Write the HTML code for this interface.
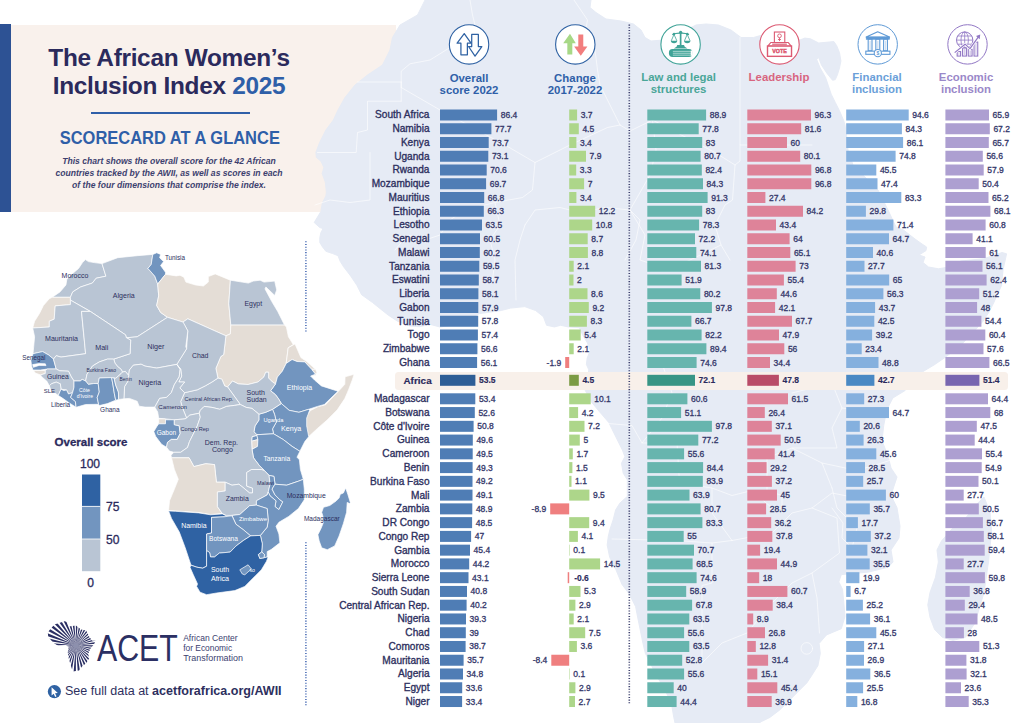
<!DOCTYPE html>
<html lang="en">
<head>
<meta charset="utf-8">
<title>The African Women's Inclusion Index 2025 – Scorecard at a glance</title>
<style>
html,body{margin:0;padding:0;background:#fff;}
body{width:1024px;height:723px;position:relative;overflow:hidden;font-family:"Liberation Sans",Arial,sans-serif;color:#2d2f5e;}
.abs{position:absolute;}
#panel{position:absolute;left:0;top:24.6px;width:396px;height:187px;background:#f9f1ec;}
#stripe{position:absolute;left:0;top:24.3px;width:11.1px;height:187.3px;background:#2d5294;}
#bg{position:absolute;left:0;top:0;width:1024px;height:723px;}
#afband{position:absolute;left:395px;top:372px;width:613px;height:17.5px;border-radius:3.5px;background:#f8f0ea;}
.t1{position:absolute;left:0;width:338px;text-align:center;font-weight:bold;color:#2b2a5c;font-size:24.4px;line-height:30px;white-space:nowrap;letter-spacing:-0.3px;}
.t1 b{color:#2f5fa8;}
#rule{position:absolute;left:90.5px;top:111.8px;width:159.5px;height:2.4px;background:#2f5fa8;}
#sub{position:absolute;left:0;width:339.6px;top:128.8px;text-align:center;font-weight:bold;color:#2f5fa8;font-size:17.6px;line-height:18px;white-space:nowrap;transform:scaleX(0.936);transform-origin:50% 50%;}
.desc{position:absolute;left:0;width:338px;text-align:center;font-style:italic;font-weight:bold;color:#3d416f;font-size:8.6px;line-height:12px;white-space:nowrap;}
.lab{position:absolute;left:230px;width:199.5px;text-align:right;font-size:10.1px;line-height:16px;height:16px;color:#2d2f5e;white-space:nowrap;-webkit-text-stroke:0.33px #2d2f5e;}
.lab.af{font-weight:bold;-webkit-text-stroke:0.2px #2b2a5c;color:#2b2a5c;left:232.2px;font-size:9.9px;letter-spacing:0.05px}
.b{position:absolute;display:block;height:11px;}
.v{position:absolute;font-size:8.5px;line-height:16px;height:16px;color:#34376a;white-space:nowrap;-webkit-text-stroke:0.3px #34376a;}
.v.af{font-weight:bold;-webkit-text-stroke:0.15px #2b2a5c;color:#2b2a5c;}
.hd{position:absolute;width:120px;text-align:center;font-weight:bold;font-size:11.4px;line-height:12.4px;white-space:nowrap;}
.lg{position:absolute;text-align:center;color:#2b2a5c;line-height:14px;white-space:nowrap;-webkit-text-stroke:0.3px #2b2a5c;}
.dots{position:absolute;width:0;border-left:1.7px dotted #4169b0;}
</style>
</head>
<body>
<div id="panel"></div>
<div id="stripe"></div>
<svg id="bg" width="1024" height="723" viewBox="0 0 1024 723">
<path d="M425.0,0.0 L417.5,15.0 L400.0,25.0 L392.5,37.5 L390.0,50.0 L382.5,65.0 L367.5,75.0 L355.0,85.0 L345.0,97.5 L338.0,110.0 L333.4,120.0 L325.9,130.0 L319.7,142.4 L315.9,152.4 L316.4,157.4 L320.9,161.1 L323.9,167.4 L322.2,173.6 L325.4,182.3 L326.4,192.3 L325.9,196.0 L322.5,202.6 L321.2,209.3 L320.9,211.5 L314.2,222.5 L319.8,227.5 L323.1,228.6 L320.9,232.5 L319.8,238.0 L319.8,242.5 L322.5,246.9 L325.9,251.3 L332.5,253.5 L338.0,255.7 L340.2,261.3 L343.6,266.8 L350.6,275.9 L356.9,285.3 L361.6,294.7 L372.5,302.5 L380.3,308.8 L388.1,315.0 L397.5,321.2 L410.0,326.0 L419.4,326.7 L430.3,324.4 L440.0,327.0 L460.0,324.0 L479.4,313.6 L501.2,310.5 L510.6,308.1 L524.7,306.6 L535.6,310.5 L543.4,316.7 L546.6,325.3 L554.4,326.9 L560.6,325.3 L568.4,326.9 L579.4,327.7 L582.5,334.7 L587.2,342.5 L590.3,350.3 L587.2,358.1 L586.4,364.4 L588.8,369.8 L585.3,390.5 L591.6,402.2 L599.4,411.6 L608.8,422.5 L613.4,431.9 L617.4,440.0 L622.4,450.0 L624.9,456.6 L621.5,463.2 L623.2,473.2 L627.3,479.8 L627.3,496.4 L619.9,503.1 L615.7,509.7 L613.2,519.7 L609.9,529.6 L608.3,536.3 L607.2,545.0 L609.7,557.3 L615.9,569.6 L622.0,584.4 L629.4,594.3 L635.6,606.6 L638.0,618.9 L640.5,631.2 L643.0,643.6 L645.4,653.4 L650.4,663.3 L656.5,675.6 L663.9,687.9 L671.3,702.7 L673.8,717.5 L675.0,723.0 L760.0,723.0 L760.0,722.3 L769.9,717.4 L779.7,710.0 L789.6,700.2 L799.4,690.3 L806.8,682.9 L811.7,675.5 L817.9,665.7 L820.3,653.4 L819.1,643.5 L826.5,634.9 L841.3,628.7 L845.0,616.4 L843.7,601.7 L842.5,589.3 L838.8,581.9 L841.3,574.6 L868.4,572.1 L888.1,567.2 L893.0,562.0 L891.0,550.0 L899.0,538.0 L900.0,526.0 L897.0,507.7 L891.0,495.5 L894.0,486.0 L897.0,477.0 L891.0,468.0 L888.0,456.0 L882.0,440.8 L883.7,425.6 L886.7,410.0 L892.8,398.0 L905.0,390.6 L923.0,371.5 L934.0,365.0 L945.0,357.5 L961.0,345.0 L973.0,332.5 L982.8,321.5 L989.0,312.0 L993.7,302.8 L998.0,293.0 L1001.5,285.6 L1003.0,270.0 L1006.6,253.8 L1002.0,252.5 L983.5,258.8 L961.0,261.0 L946.0,267.5 L938.5,268.8 L928.5,267.0 L923.0,262.5 L925.0,257.0 L919.0,255.0 L926.0,250.6 L926.6,247.0 L922.0,244.0 L915.0,239.0 L903.5,230.0 L896.0,227.0 L888.0,210.0 L878.0,190.0 L858.0,170.0 L853.0,165.0 L848.0,150.0 L846.5,135.0 L845.0,125.0 L843.6,120.4 L839.5,110.8 L835.3,102.5 L831.2,94.2 L828.4,85.9 L825.6,77.6 L820.1,67.9 L816.7,59.6 L818.7,57.5 L821.5,65.1 L827.0,73.4 L832.6,80.3 L835.3,79.6 L837.4,74.8 L839.5,67.9 L840.9,61.0 L839.5,52.7 L836.7,45.7 L833.9,41.6 L818.7,43.0 L810.4,38.8 L804.9,38.1 L799.4,40.2 L796.0,36.0 L781.0,34.0 L766.0,34.0 L753.5,37.5 L741.0,37.5 L731.0,30.0 L718.5,25.0 L706.0,24.0 L696.0,25.0 L686.0,30.0 L673.5,35.0 L663.5,40.0 L651.0,41.0 L645.0,37.5 L641.0,30.0 L633.5,24.0 L621.0,21.0 L606.0,19.0 L596.0,12.5 L590.0,7.5 L591.0,0.0Z" fill="#e6ebf5" stroke="#e6ebf5" stroke-width="1" stroke-linejoin="round"/>
<path d="M984.0,497.0 L990.0,512.0 L991.6,531.0 L988.5,561.7 L984.0,592.5 L974.7,623.4 L965.4,637.3 L953.0,640.3 L942.3,637.3 L934.6,629.5 L930.0,617.2 L927.8,604.9 L930.0,592.5 L935.4,577.6 L938.4,562.0 L937.0,550.0 L941.5,541.0 L953.0,527.8 L965.4,518.5 L974.7,506.2Z" fill="#e6ebf5" stroke="#e6ebf5" stroke-width="1" stroke-linejoin="round"/>
<g fill="none" stroke="#fff" stroke-opacity="0.6" stroke-width="1" stroke-linejoin="round" stroke-linecap="round">
<path d="M357.5,82.0 L401.2,82.0"/>
<path d="M401.2,87.5 L401.2,71.2 L410.0,63.8 L430.0,60.0 L440.0,53.8 L450.0,47.5 L460.0,37.5"/>
<path d="M401.2,101.2 L367.5,101.2 L367.5,130.0 L357.5,132.5 L356.2,152.5 L317.5,152.5"/>
<path d="M401.2,82.0 L401.2,87.5 L440.0,110.0"/>
<path d="M401.2,87.5 L401.2,101.2"/>
<path d="M470.0,0.0 L472.5,15.0 L475.0,25.0"/>
<path d="M440.0,110.0 L505.0,145.0 L535.0,162.5 L570.0,145.0 L607.5,127.5 L620.0,125.0"/>
<path d="M620.0,125.0 L607.5,100.0 L600.0,85.0 L597.5,70.0 L595.0,50.0 L585.0,35.0 L587.5,20.0 L574.0,0.0"/>
<path d="M620.0,125.0 L630.0,131.0 L652.5,120.0 L715.0,152.5 L735.0,165.0"/>
<path d="M535.0,162.5 L532.5,190.0 L522.5,197.5 L495.0,202.5 L465.0,210.0 L450.0,220.0"/>
<path d="M370.0,152.5 L370.0,200.0 L350.0,202.5 L330.0,200.0 L315.0,205.0"/>
<path d="M652.5,120.0 L656.0,150.0 L650.0,175.0 L630.0,210.0"/>
<path d="M525.0,225.0 L535.0,210.0 L560.0,207.5 L580.0,212.5 L605.0,207.5 L630.0,210.0 L640.0,220.0 L636.0,240.0 L625.0,260.0"/>
<path d="M740.0,37.5 L740.0,145.0 L812.0,145.0"/>
<path d="M740.0,145.0 L740.0,161.0 L735.0,165.0 L732.5,200.0 L725.0,205.0 L715.0,225.0 L721.0,245.0 L730.0,260.0"/>
<path d="M450.0,220.0 L440.0,235.0 L425.0,240.0 L407.5,235.0 L395.0,250.0"/>
<path d="M495.0,202.5 L500.0,225.0 L490.0,240.0 L495.0,260.0 L492.5,280.0"/>
<path d="M525.0,225.0 L520.0,240.0 L515.0,260.0 L516.0,300.0"/>
<path d="M630.0,210.0 L645.0,235.0 L640.0,260.0 L670.0,270.0 L690.0,260.0 L721.0,245.0"/>
<path d="M612.0,539.0 L677.0,540.5 L712.0,543.0 L732.0,540.5"/>
<path d="M712.0,543.0 L712.0,583.0 L702.0,585.5 L702.0,663.0"/>
<path d="M602.0,423.0 L632.0,425.5 L642.0,443.0 L677.0,443.0 L679.5,483.0 L712.0,488.0 L712.0,513.0 L732.0,540.5"/>
<path d="M732.0,540.5 L772.0,533.0 L792.0,513.0 L812.0,508.0 L832.0,493.0 L857.0,498.0"/>
<path d="M702.0,663.0 L722.0,643.0 L747.0,633.0 L772.0,603.0 L792.0,583.0 L812.0,573.0"/>
<path d="M812.0,508.0 L837.0,518.0 L839.5,553.0 L812.0,573.0 L817.0,598.0 L819.5,633.0"/>
<path d="M712.0,488.0 L732.0,495.5 L752.0,490.5 L772.0,508.0 L782.0,508.0 L782.0,495.5 L767.0,490.5 L767.0,458.0 L792.0,448.0 L822.0,463.0 L832.0,488.0"/>
<path d="M822.0,463.0 L857.0,470.5 L882.0,463.0 L897.0,458.0"/>
<path d="M832.0,488.0 L837.0,508.0 L857.0,528.0 L852.0,548.0 L842.0,538.0 L843.0,523.0 L832.0,508.0"/>
<path d="M792.0,393.0 L812.0,388.0 L832.0,383.0 L842.0,408.0 L832.0,428.0 L837.0,448.0 L792.0,448.0"/>
<path d="M842.0,408.0 L882.0,413.0 L912.0,433.0"/>
<path d="M662.0,363.0 L672.0,393.0 L662.0,418.0 L642.0,443.0"/>
<circle cx="806.8" cy="648.4" r="5.8"/>
</g>
</svg>
<div id="afband"></div>

<div class="t1" style="top:43px">The African Women’s</div>
<div class="t1" style="top:71px">Inclusion Index <b>2025</b></div>
<div id="rule"></div>
<div id="sub">SCORECARD AT A GLANCE</div>
<div class="desc" style="top:154.5px">This chart shows the overall score for the 42 African</div>
<div class="desc" style="top:166.8px">countries tracked by the AWII, as well as scores in each</div>
<div class="desc" style="top:179px">of the four dimensions that comprise the index.</div>

<svg id="map" style="position:absolute;left:0;top:0" width="360" height="620" viewBox="0 0 360 620">
<g stroke="#fff" stroke-width="0.7" stroke-linejoin="round">
<path d="M52.2,297.3 60.0,291.9 65.9,285.0 66.9,279.2 71.8,274.3 78.6,268.4 82.5,262.6 85.4,259.6 88.4,261.6 94.2,262.6 102.0,263.6 105.9,276.2 96.2,278.2 92.3,283.1 80.5,287.0 72.7,291.9 70.4,297.3Z" fill="#b9c5d4"/>
<path d="M52.2,297.3 70.4,297.3 70.4,304.6 55.2,305.9 54.2,319.2 49.3,321.2 49.3,327.0 32.7,328.0 34.6,321.2 39.5,313.4 43.4,305.5 49.3,298.7Z" fill="#e4ddd6"/>
<path d="M102.0,263.6 117.7,257.7 137.2,255.7 152.8,254.4 151.2,264.5 147.9,268.4 154.8,276.2 157.7,284.1 158.7,295.8 156.7,305.5 160.6,312.4 167.5,317.3 137.2,336.8 126.4,337.8 125.5,334.8 90.3,311.4 70.4,300.1 70.4,297.3 72.7,291.9 80.5,287.0 92.3,283.1 96.2,278.2 105.9,276.2Z" fill="#b9c5d4"/>
<path d="M152.8,254.4 156.7,252.8 160.6,254.4 159.6,257.7 163.6,261.6 160.6,265.5 165.5,272.3 165.5,274.3 157.7,284.1 154.8,276.2 147.9,268.4 151.2,264.5Z" fill="#7295bf"/>
<path d="M157.7,284.1 165.5,274.3 176.2,275.9 180.0,275.3 183.9,277.2 185.9,282.1 195.6,285.0 203.4,286.0 208.3,282.1 208.3,276.6 215.2,273.9 230.4,280.2 228.8,303.6 230.8,325.1 230.4,333.9 225.9,335.8 187.8,318.8 182.9,322.1 167.5,317.3 160.6,312.4 156.7,305.5 158.7,295.8Z" fill="#e4ddd6"/>
<path d="M230.4,280.2 248.4,283.1 253.2,281.1 260.1,280.2 264.0,282.1 274.7,281.1 276.7,289.9 274.7,295.4 265.9,287.0 265.0,288.9 271.8,301.6 277.7,311.4 281.6,319.2 284.5,325.1 230.8,325.1 228.8,303.6Z" fill="#b9c5d4"/>
<path d="M230.8,325.1 284.5,325.1 286.4,327.0 288.4,336.8 293.3,344.6 288.2,347.8 286.2,363.4 282.3,371.2 277.4,377.1 275.5,383.9 272.5,382.0 268.6,378.1 268.6,372.2 265.7,372.2 263.8,377.1 257.9,382.0 248.1,384.5 238.4,383.9 232.5,381.0 227.6,386.9 224.7,385.9 221.8,379.1 217.9,378.1 215.9,368.3 220.8,356.6 223.7,354.6 225.9,335.8 230.4,333.9Z" fill="#e4ddd6"/>
<path d="M295.0,343.9 300.9,357.6 306.7,361.5 315.5,369.3 311.6,369.3 304.8,361.9 297.0,361.5 292.1,359.5 286.2,363.4 288.2,347.8Z" fill="#e4ddd6"/>
<path d="M354.1,374.3 352.3,379.9 348.5,389.9 344.8,398.6 337.3,409.8 327.4,419.8 317.4,428.5 308.7,436.6 306.2,431.0 306.2,416.0 310.6,410.4 318.0,406.7 325.5,404.8 338.0,391.7 344.8,384.3 345.1,376.8Z" fill="#e4ddd6"/>
<path d="M311.6,369.3 315.5,369.3 316.9,372.2 315.5,375.5 310.6,376.1 315.5,374.2Z" fill="#e4ddd6"/>
<path d="M286.2,363.4 292.1,359.5 297.0,361.5 304.8,361.9 311.6,369.3 315.5,374.2 310.6,376.1 314.5,380.0 321.4,385.9 338.0,391.2 324.3,404.5 317.5,406.4 308.7,409.3 298.9,412.3 289.1,410.3 281.3,403.5 278.4,398.6 275.5,394.7 270.6,390.8 275.5,383.9 277.4,377.1 282.3,371.2Z" fill="#7295bf"/>
<path d="M281.3,403.5 289.1,410.3 298.9,412.3 308.7,409.3 309.6,410.3 306.7,418.1 306.7,425.9 308.7,436.7 304.8,441.6 299.9,451.3 292.1,446.4 283.3,439.6 273.5,433.8 272.5,428.9 276.4,422.0 274.5,414.2 272.5,409.3Z" fill="#7295bf"/>
<path d="M258.9,414.2 265.7,412.3 272.5,409.3 274.5,414.2 276.4,422.0 272.5,428.9 273.5,433.8 256.9,434.7 254.0,431.8 255.0,425.9 258.9,420.1Z" fill="#7295bf"/>
<path d="M252.0,436.7 256.9,435.3 257.9,439.6 251.6,441.2Z" fill="#7295bf"/>
<path d="M251.6,441.2 257.9,439.6 257.5,446.4 252.0,449.4Z" fill="#e4ddd6"/>
<path d="M256.9,434.7 273.5,433.8 283.3,439.6 292.1,446.4 299.9,451.3 297.0,457.2 299.4,459.8 300.4,469.5 303.3,479.3 298.4,481.2 286.7,485.2 275.0,484.2 274.0,476.4 269.1,475.4 264.3,470.5 259.4,465.6 253.5,457.8 252.0,449.4 257.5,446.4 257.9,439.6 256.9,435.3Z" fill="#7295bf"/>
<path d="M227.6,386.9 232.5,381.0 238.4,383.9 248.1,384.5 257.9,382.0 263.8,377.1 265.7,372.2 268.6,372.2 268.6,378.1 272.5,382.0 275.5,383.9 270.6,390.8 275.5,394.7 278.4,398.6 281.3,403.5 272.5,409.3 265.7,412.3 258.9,414.2 252.0,408.4 246.2,407.4 240.3,404.5Z" fill="#b9c5d4"/>
<path d="M184.6,392.7 197.3,389.8 205.2,385.9 212.0,382.0 217.9,378.1 221.8,379.1 224.7,385.9 227.6,386.9 240.3,404.5 234.5,405.4 226.6,406.4 219.8,409.3 212.0,407.4 204.2,406.4 200.3,410.3 199.3,413.2 189.5,415.2 186.6,418.1 182.7,408.4 180.7,401.5Z" fill="#b9c5d4"/>
<path d="M182.9,322.1 187.8,318.8 225.9,335.8 223.7,354.6 220.8,356.6 215.9,368.3 217.9,378.1 212.0,382.0 205.2,385.9 197.3,389.8 184.6,392.7 179.8,387.9 184.6,382.0 178.8,382.0 181.7,376.1 180.7,369.3 176.8,364.4 186.6,348.8 187.8,330.9Z" fill="#b9c5d4"/>
<path d="M126.4,337.8 137.2,336.8 167.5,317.3 183.1,322.1 187.8,330.9 185.8,346.6 186.6,348.8 176.8,364.4 172.3,365.2 156.7,368.1 145.0,366.1 141.1,364.2 133.3,365.2 129.4,370.0 128.7,375.5 125.3,371.4 122.5,372.1 121.2,369.4 117.8,366.7 115.0,363.2 113.7,359.1 130.1,353.7 130.7,340.0Z" fill="#b9c5d4"/>
<path d="M128.7,375.5 129.4,370.0 133.3,365.2 141.1,364.2 145.0,366.1 156.7,368.1 172.3,365.2 176.8,364.4 180.2,369.1 179.2,376.9 174.3,384.7 171.4,392.5 166.5,397.4 159.6,398.4 154.8,407.1 145.0,407.1 139.1,406.2 137.2,401.3 129.4,398.4 123.9,398.8 124.6,386.5 128.0,381.0Z" fill="#b9c5d4"/>
<path d="M176.8,364.4 180.7,369.3 181.7,376.1 178.8,382.0 184.6,382.0 179.8,387.9 184.6,392.7 180.7,401.5 182.7,408.4 186.6,418.1 185.0,418.9 174.3,419.8 165.5,418.9 158.7,418.3 157.7,412.0 154.8,407.1 159.6,398.4 166.5,397.4 171.4,392.5 174.3,384.7 179.2,376.9 180.2,369.1Z" fill="#b9c5d4"/>
<path d="M158.7,418.9 165.5,418.9 165.5,423.8 158.7,423.8Z" fill="#e4ddd6"/>
<path d="M158.7,423.8 165.5,423.8 165.5,419.8 174.3,419.8 174.3,424.7 179.2,425.7 180.2,433.5 177.2,439.4 171.4,439.4 167.5,442.3 166.5,447.2 161.6,444.3 155.7,436.4 153.8,431.6 156.7,426.7Z" fill="#7295bf"/>
<path d="M174.3,419.8 185.0,418.9 186.6,418.1 189.5,415.2 199.3,413.2 200.3,417.1 197.3,425.9 193.4,433.8 189.5,441.6 187.6,447.4 180.7,452.3 173.9,452.3 169.4,451.1 166.5,447.2 167.5,442.3 171.4,439.4 177.2,439.4 180.2,433.5 179.2,425.7 174.3,424.7Z" fill="#b9c5d4"/>
<path d="M199.3,413.2 200.3,410.3 204.2,406.4 212.0,407.4 219.8,409.3 226.6,406.4 234.5,405.4 240.3,404.5 246.2,407.4 252.0,408.4 258.9,414.2 258.9,420.1 255.0,425.9 254.0,431.8 256.9,434.7 256.9,435.3 252.0,436.7 251.6,441.2 252.0,449.4 253.5,457.8 259.4,465.6 264.3,470.5 261.3,469.5 251.6,469.5 246.7,472.5 246.7,486.1 252.5,488.1 252.5,493.0 249.6,493.0 243.8,488.1 238.9,484.2 232.0,485.2 225.2,482.2 216.4,482.2 214.5,464.6 205.7,463.7 193.9,466.6 189.1,457.8 171.5,457.8 171.0,455.2 173.9,452.3 180.7,452.3 187.6,447.4 189.5,441.6 193.4,433.8 197.3,425.9 200.3,417.1Z" fill="#b9c5d4"/>
<path d="M171.5,457.8 189.1,457.8 193.9,466.6 205.7,463.7 214.5,464.6 216.4,482.2 225.2,482.2 225.2,491.0 217.4,492.0 217.4,506.6 222.3,513.5 210.5,514.5 198.8,512.5 175.4,510.9 168.6,510.5 169.5,500.8 174.4,489.1 178.3,479.3 174.4,469.5Z" fill="#e4ddd6"/>
<path d="M217.4,492.0 225.2,491.0 225.2,482.2 232.0,485.2 238.9,484.2 243.8,488.1 249.6,493.0 252.5,493.0 252.5,488.1 246.7,486.1 246.7,472.5 251.6,469.5 261.3,469.5 264.3,470.5 269.1,475.4 270.1,484.2 268.2,492.0 267.2,494.9 256.4,500.8 256.4,505.1 249.6,505.7 239.8,514.5 232.0,515.4 226.2,515.4 222.3,513.5 217.4,506.6Z" fill="#b9c5d4"/>
<path d="M269.1,475.4 274.0,476.4 275.0,484.2 272.1,489.1 275.0,494.9 279.9,499.8 282.8,501.8 278.9,509.6 275.0,506.6 276.0,500.8 270.1,495.9 268.2,492.0 270.1,484.2Z" fill="#7295bf"/>
<path d="M275.0,484.2 286.7,485.2 298.4,481.2 303.3,479.3 304.3,489.1 304.3,499.8 298.4,508.6 288.7,516.4 278.9,522.3 276.0,526.2 278.9,534.0 279.9,542.8 271.1,549.6 267.2,551.6 267.2,557.0 263.9,557.8 264.5,554.5 261.7,552.0 262.3,543.8 260.4,535.4 267.2,527.1 268.2,520.3 267.2,508.6 256.4,505.1 256.4,500.8 267.2,494.9 268.2,492.0 270.1,495.9 276.0,500.8 275.0,506.6 278.9,509.6 282.8,501.8 279.9,499.8 275.0,494.9 272.1,489.1Z" fill="#7295bf"/>
<path d="M232.0,515.4 239.8,514.5 249.6,505.7 256.4,505.1 267.2,508.6 268.2,520.3 267.2,527.1 260.4,535.4 250.6,535.9 243.8,530.1 235.9,524.2Z" fill="#7295bf"/>
<path d="M168.6,510.9 175.4,511.3 198.8,512.9 210.5,514.8 222.3,513.9 226.2,515.8 232.0,515.4 231.1,517.4 224.2,516.8 211.5,517.4 211.5,533.0 206.6,534.0 206.6,566.2 202.7,568.2 196.9,567.2 191.0,565.2 185.2,547.7 179.3,532.0 171.5,518.4Z" fill="#2f62a3"/>
<path d="M211.5,517.4 224.2,516.8 232.0,515.8 235.9,524.2 243.8,530.1 250.6,535.9 243.8,540.2 235.9,546.1 230.1,552.1 219.3,553.1 214.5,557.0 210.5,557.0 209.6,552.5 206.6,550.6 206.6,534.0 211.5,533.0Z" fill="#7295bf"/>
<path d="M191.0,565.2 196.9,567.2 202.7,568.2 206.6,566.2 206.6,550.6 209.6,552.5 210.5,557.0 214.5,557.0 219.3,553.1 230.1,552.1 235.9,546.1 243.8,540.2 250.6,535.9 260.4,535.4 262.3,543.8 261.7,552.0 258.4,554.5 259.8,558.4 263.9,557.8 267.2,557.0 268.0,557.4 266.4,561.5 261.4,569.8 253.1,578.1 244.8,586.4 234.8,590.6 216.6,593.0 206.6,594.7 200.0,592.2 196.6,586.4 197.5,583.9 193.3,574.8 190.0,567.3Z" fill="#2f62a3"/>
<path d="M239.8,569.8 248.1,564.8 251.4,569.0 244.8,574.8 242.3,574.0Z" fill="#7295bf"/>
<path d="M258.4,554.5 261.7,552.0 264.5,554.5 263.9,557.8 259.8,558.4Z" fill="#7295bf"/>
<path d="M345.7,488.0 347.8,494.3 350.3,502.4 349.7,503.6 347.2,502.4 346.6,512.3 343.4,523.5 339.1,536.0 334.7,545.9 327.3,549.7 321.7,547.8 319.2,541.0 317.9,534.7 321.0,528.5 323.5,522.3 322.9,516.1 321.7,512.3 323.5,507.3 329.8,505.5 336.0,501.1 339.1,498.0 340.3,494.3 343.4,493.0Z" fill="#7295bf"/>
<path d="M55.2,305.9 70.4,304.6 70.4,300.1 90.3,311.4 81.5,311.4 83.5,332.9 84.3,340.0 85.6,353.7 61.0,357.1 56.2,355.7 53.5,359.1 48.7,355.0 42.6,351.6 33.0,353.7 33.7,346.6 34.6,336.8 32.7,328.0 49.3,327.0 49.3,321.2 54.2,319.2Z" fill="#b9c5d4"/>
<path d="M33.0,353.7 42.6,351.6 48.7,355.0 53.5,359.1 56.2,369.0 47.3,369.0 40.5,370.1 33.0,370.1 31.6,366.0 30.9,360.5Z" fill="#7295bf"/>
<path d="M32.6,364.6 39.1,363.5 45.3,363.8 46.0,365.6 39.1,365.4 33.4,367.3Z" fill="#fff"/>
<path d="M81.5,311.4 90.3,311.4 125.5,334.8 126.4,337.8 130.7,340.0 130.1,353.7 113.7,359.1 107.5,359.1 99.3,361.9 92.5,366.0 87.0,374.2 85.6,381.0 82.2,379.4 80.2,381.0 74.7,381.0 74.0,381.0 71.3,376.9 68.5,371.2 59.6,370.8 56.2,369.0 53.5,359.1 56.2,355.7 61.0,357.1 85.6,353.7 84.3,340.0Z" fill="#b9c5d4"/>
<path d="M85.6,381.0 87.0,374.2 92.5,366.0 99.3,361.9 107.5,359.1 113.7,359.1 115.0,363.2 117.8,366.7 121.2,369.4 122.5,372.1 121.2,373.5 115.7,378.3 111.6,377.6 99.3,378.0 98.2,383.5 93.8,383.5 88.4,384.4Z" fill="#b9c5d4"/>
<path d="M33.4,370.4 45.3,370.4 45.3,373.5 40.5,374.9 35.3,373.1Z" fill="#e4ddd6"/>
<path d="M45.3,370.4 47.3,369.0 56.2,369.0 59.6,370.8 68.5,371.2 71.3,376.9 74.0,381.0 74.0,387.2 72.6,392.6 68.5,394.0 66.5,389.9 61.0,389.2 60.3,383.8 56.2,382.1 51.4,383.8 49.4,385.8 46.7,381.0 41.9,376.9 40.5,374.9 45.3,373.5Z" fill="#b9c5d4"/>
<path d="M49.4,385.8 51.4,383.8 56.2,382.1 60.3,383.8 61.0,389.2 58.3,395.4 54.2,392.6 50.8,389.9Z" fill="#b9c5d4"/>
<path d="M61.0,389.2 63.8,390.6 66.5,389.9 68.5,394.0 72.6,392.6 70.6,397.4 75.4,401.5 76.1,407.3 69.2,402.9 62.4,398.1 58.3,395.4Z" fill="#7295bf"/>
<path d="M74.7,381.0 80.2,381.0 82.2,379.4 85.6,381.0 88.4,384.4 93.8,383.5 98.2,383.5 99.3,392.0 97.2,397.4 98.6,404.3 85.6,404.5 76.1,407.3 75.4,401.5 70.6,397.4 72.6,392.6 74.0,387.2 74.0,381.0Z" fill="#7295bf"/>
<path d="M99.3,378.0 111.6,377.6 113.0,385.1 114.3,393.3 115.7,400.2 107.5,403.6 99.3,405.6 98.6,404.3 97.2,397.4 99.3,392.0 98.2,383.5Z" fill="#7295bf"/>
<path d="M111.6,377.6 114.1,378.0 115.7,385.1 118.4,392.0 118.7,399.5 115.7,400.2 114.3,393.3 113.0,385.1Z" fill="#7295bf"/>
<path d="M114.1,378.0 115.7,378.3 121.2,373.5 122.5,372.1 125.3,371.4 128.7,375.5 128.0,381.0 124.6,386.5 123.9,398.8 118.7,399.5 118.4,392.0 115.7,385.1Z" fill="#b9c5d4"/>
</g>
<g font-family="Liberation Sans, Arial, sans-serif">
<text x="164.9" y="260.2" font-size="6.31" fill="#2d2f5e" textLength="20.1" lengthAdjust="spacingAndGlyphs">Tunisia</text>
<text x="61.6" y="278.2" font-size="6.99" fill="#2d2f5e" textLength="26.8" lengthAdjust="spacingAndGlyphs">Morocco</text>
<text x="112.8" y="297.7" font-size="7.04" fill="#2d2f5e" textLength="21.9" lengthAdjust="spacingAndGlyphs">Algeria</text>
<text x="244.5" y="305.5" font-size="6.88" fill="#2d2f5e" textLength="17.6" lengthAdjust="spacingAndGlyphs">Egypt</text>
<text x="45.0" y="340.7" font-size="7.07" fill="#2d2f5e" textLength="33.0" lengthAdjust="spacingAndGlyphs">Mauritania</text>
<text x="95.2" y="349.5" font-size="7.15" fill="#2d2f5e" textLength="13.1" lengthAdjust="spacingAndGlyphs">Mali</text>
<text x="147.3" y="348.5" font-size="7.20" fill="#2d2f5e" textLength="17.2" lengthAdjust="spacingAndGlyphs">Niger</text>
<text x="191.9" y="358.3" font-size="6.94" fill="#2d2f5e" textLength="16.6" lengthAdjust="spacingAndGlyphs">Chad</text>
<text x="22.3" y="359.8" font-size="6.27" fill="#2d2f5e" textLength="23.0" lengthAdjust="spacingAndGlyphs">Senegal</text>
<text x="86.4" y="372.0" font-size="5.04" fill="#2d2f5e" textLength="29.7" lengthAdjust="spacingAndGlyphs">Burkina Faso</text>
<text x="47.0" y="379.4" font-size="6.79" fill="#2d2f5e" textLength="21.9" lengthAdjust="spacingAndGlyphs">Guinea</text>
<text x="119.6" y="380.7" font-size="4.81" fill="#2d2f5e" textLength="12.3" lengthAdjust="spacingAndGlyphs">Benin</text>
<text x="138.6" y="384.6" font-size="7.10" fill="#2d2f5e" textLength="22.5" lengthAdjust="spacingAndGlyphs">Nigeria</text>
<text x="43.8" y="392.9" font-size="5.98" fill="#2d2f5e" textLength="11.3" lengthAdjust="spacingAndGlyphs">SLE</text>
<text x="50.9" y="407.1" font-size="6.43" fill="#2d2f5e" textLength="19.3" lengthAdjust="spacingAndGlyphs">Liberia</text>
<text x="100.1" y="411.6" font-size="6.50" fill="#2d2f5e" textLength="19.5" lengthAdjust="spacingAndGlyphs">Ghana</text>
<text x="158.3" y="409.1" font-size="6.15" fill="#2d2f5e" textLength="28.7" lengthAdjust="spacingAndGlyphs">Cameroon</text>
<text x="184.6" y="400.5" font-size="5.45" fill="#2d2f5e" textLength="48.8" lengthAdjust="spacingAndGlyphs">Central African Rep.</text>
<text x="180.5" y="431.0" font-size="5.63" fill="#2d2f5e" textLength="28.5" lengthAdjust="spacingAndGlyphs">Congo Rep</text>
<text x="156.7" y="435.1" font-size="6.50" fill="#fff" textLength="19.5" lengthAdjust="spacingAndGlyphs">Gabon</text>
<text x="246.6" y="395.1" font-size="6.96" fill="#2d2f5e" textLength="18.2" lengthAdjust="spacingAndGlyphs">South</text>
<text x="246.6" y="402.1" font-size="6.95" fill="#2d2f5e" textLength="20.1" lengthAdjust="spacingAndGlyphs">Sudan</text>
<text x="286.8" y="390.4" font-size="7.03" fill="#fff" textLength="25.4" lengthAdjust="spacingAndGlyphs">Ethiopia</text>
<text x="263.4" y="421.6" font-size="5.68" fill="#fff" textLength="19.9" lengthAdjust="spacingAndGlyphs">Uganda</text>
<text x="280.9" y="431.4" font-size="7.16" fill="#fff" textLength="20.3" lengthAdjust="spacingAndGlyphs">Kenya</text>
<text x="263.4" y="460.5" font-size="6.70" fill="#fff" textLength="26.8" lengthAdjust="spacingAndGlyphs">Tanzania</text>
<text x="204.8" y="444.9" font-size="6.95" fill="#2d2f5e" textLength="33.2" lengthAdjust="spacingAndGlyphs">Dem. Rep.</text>
<text x="212.0" y="452.3" font-size="7.09" fill="#2d2f5e" textLength="20.9" lengthAdjust="spacingAndGlyphs">Congo</text>
<text x="257.0" y="484.8" font-size="5.46" fill="#2d2f5e" textLength="17.0" lengthAdjust="spacingAndGlyphs">Malawi</text>
<text x="225.8" y="501.2" font-size="6.87" fill="#2d2f5e" textLength="22.9" lengthAdjust="spacingAndGlyphs">Zambia</text>
<text x="286.7" y="498.4" font-size="6.81" fill="#2d2f5e" textLength="39.0" lengthAdjust="spacingAndGlyphs">Mozambique</text>
<text x="238.9" y="520.7" font-size="6.14" fill="#fff" textLength="28.3" lengthAdjust="spacingAndGlyphs">Zimbabwe</text>
<text x="303.9" y="521.3" font-size="6.52" fill="#2d2f5e" textLength="35.9" lengthAdjust="spacingAndGlyphs">Madagascar</text>
<text x="181.2" y="528.1" font-size="6.93" fill="#fff" textLength="25.4" lengthAdjust="spacingAndGlyphs">Namibia</text>
<text x="209.0" y="540.8" font-size="6.58" fill="#fff" textLength="28.9" lengthAdjust="spacingAndGlyphs">Botswana</text>
<text x="210.9" y="571.5" font-size="6.96" fill="#fff" textLength="18.2" lengthAdjust="spacingAndGlyphs">South</text>
<text x="210.9" y="580.5" font-size="7.12" fill="#fff" textLength="18.2" lengthAdjust="spacingAndGlyphs">Africa</text>
<text x="249.5" y="571.5" font-size="5.21" fill="#fff" textLength="5.5" lengthAdjust="spacingAndGlyphs">so</text>
<text x="79.1" y="392.4" font-size="5.16" fill="#fff" textLength="10.9" lengthAdjust="spacingAndGlyphs">Côte</text>
<text x="76.7" y="398.1" font-size="5.14" fill="#fff" textLength="16.4" lengthAdjust="spacingAndGlyphs">d'Ivoire</text>
</g>
</svg>
<svg style="position:absolute;left:0;top:600px" width="330" height="123" viewBox="0 600 330 123" font-family="Liberation Sans, Arial, sans-serif">
<defs><clipPath id="afclip"><path d="M49.2,630.5 54.4,624.4 64.6,621.3 67.7,622.3 68.7,626.4 75.9,625.4 81.0,629.5 86.1,630.5 89.2,636.7 92.3,640.8 95.4,640.8 94.3,643.8 90.2,649.0 88.2,654.1 89.2,658.2 86.1,663.3 82.0,666.4 79.0,670.5 72.8,671.5 70.8,665.4 68.7,658.2 67.7,652.0 68.7,646.9 65.6,644.9 58.5,645.9 53.3,642.8 48.2,636.7 47.8,632.6Z"/></clipPath></defs>
<g clip-path="url(#afclip)"><path d="M75.89,645.27L115.89,645.27L115.74,648.72ZM75.89,645.27L115.40,651.53L114.71,654.92ZM75.89,645.27L113.93,657.63L112.72,660.87ZM75.89,645.27L111.53,663.43L109.83,666.44ZM75.89,645.27L108.25,668.78L106.10,671.49ZM75.89,645.27L104.17,673.56L101.63,675.89ZM75.89,645.27L99.40,677.63L96.52,679.54ZM75.89,645.27L94.05,680.91L90.91,682.35ZM75.89,645.27L88.25,683.32L84.92,684.24ZM75.89,645.27L82.15,684.78L78.71,685.17ZM75.89,645.27L75.89,685.27L72.44,685.12ZM75.89,645.27L69.63,684.78L66.25,684.09ZM75.89,645.27L63.53,683.32L60.29,682.11ZM75.89,645.27L57.73,680.91L54.72,679.21ZM75.89,645.27L52.38,677.63L49.67,675.48ZM75.89,645.27L47.60,673.56L45.27,671.01ZM75.89,645.27L43.53,668.78L41.62,665.90ZM75.89,645.27L40.25,663.43L38.81,660.29ZM75.89,645.27L37.85,657.63L36.92,654.31ZM75.89,645.27L36.38,651.53L35.99,648.10ZM75.89,645.27L35.89,645.27L36.04,641.82ZM75.89,645.27L36.38,639.02L37.07,635.63ZM75.89,645.27L37.85,632.91L39.05,629.68ZM75.89,645.27L40.25,627.11L41.95,624.11ZM75.89,645.27L43.53,621.76L45.68,619.06ZM75.89,645.27L47.60,616.99L50.15,614.65ZM75.89,645.27L52.38,612.91L55.26,611.00ZM75.89,645.27L57.73,609.63L60.87,608.20ZM75.89,645.27L63.53,607.23L66.86,606.31ZM75.89,645.27L69.63,605.77L73.06,605.37ZM75.89,645.27L75.89,605.27L79.34,605.42ZM75.89,645.27L82.15,605.77L85.53,606.45ZM75.89,645.27L88.25,607.23L91.49,608.44ZM75.89,645.27L94.05,609.63L97.06,611.33ZM75.89,645.27L99.40,612.91L102.10,615.06ZM75.89,645.27L104.17,616.99L106.51,619.54ZM75.89,645.27L108.25,621.76L110.16,624.64ZM75.89,645.27L111.53,627.11L112.96,630.26ZM75.89,645.27L113.93,632.91L114.86,636.24ZM75.89,645.27L115.40,639.02L115.79,642.45Z" fill="#2b2f63"/><circle cx="75.9" cy="645.3" r="2.6" fill="#8d90ad"/></g>
<text x="97" y="660.9" font-size="37.3" fill="#2b2f63" textLength="80.8" lengthAdjust="spacingAndGlyphs">ACET</text>
<text x="183.2" y="640.8" font-size="9.3" fill="#3a3e70" textLength="54.5" lengthAdjust="spacingAndGlyphs">African Center</text>
<text x="183.2" y="651" font-size="9.3" fill="#3a3e70" textLength="49" lengthAdjust="spacingAndGlyphs">for Economic</text>
<text x="183.2" y="661.3" font-size="9.3" fill="#3a3e70" textLength="59.8" lengthAdjust="spacingAndGlyphs">Transformation</text>
<circle cx="54.4" cy="691.6" r="6.6" fill="#2f62a3"/>
<path d="M51.6,687.2 L51.6,695.6 L53.7,693.7 L55.2,696.9 L56.5,696.3 L55.0,693.2 L57.8,693.0 Z" fill="#fff"/>
<text x="65" y="695.3" font-size="12" fill="#2d2f5e" textLength="216.6" lengthAdjust="spacingAndGlyphs"><tspan>See full data at </tspan><tspan font-weight="bold">acetforafrica.org/AWII</tspan></text>
</svg>
<div class="lg" style="left:41px;top:435px;width:100px;font-size:11.5px;font-weight:bold">Overall score</div>
<div class="lg" style="left:60px;top:456.5px;width:60px;font-size:12.1px">100</div>
<div class="lg" style="left:60px;top:575.5px;width:61px;font-size:12.1px">0</div>
<div class="lg" style="left:106px;top:500px;width:20px;font-size:12.1px;text-align:left">75</div>
<div class="lg" style="left:106px;top:532.5px;width:20px;font-size:12.1px;text-align:left">50</div>
<svg style="position:absolute;left:80px;top:470px" width="24" height="105" viewBox="80 470 24 105"><rect x="82" y="474.5" width="18.3" height="31.9" fill="#2f62a3"/><rect x="82" y="506.4" width="18.3" height="32.6" fill="#7295bf"/><rect x="82" y="539" width="18.3" height="32.2" fill="#b9c5d4"/><path d="M82,506.4h18.3M82,539h18.3" stroke="#fff" stroke-width="0.8"/></svg>


<svg style="position:absolute;left:0;top:0" width="1024" height="723" viewBox="0 0 1024 723" fill="none">
<path d="M305.9,241.3V331.5M305.9,542.3V705.5" stroke="#4a6db5" stroke-width="1.6" stroke-dasharray="1.05 1.65"/>
<path d="M629.3,24.6V705" stroke="#3d406e" stroke-width="1.6" stroke-dasharray="1.05 1.65"/>
</svg>

<svg style="position:absolute;left:440px;top:20px" width="560" height="50" viewBox="440 20 560 50">
<circle cx="469.05" cy="44.4" r="19.7" fill="#fff" stroke="#2f62a3" stroke-width="1.1"/>
<polygon points="464.24,33.57 471.04,43.20 467.39,43.20 467.39,54.82 460.92,54.82 460.92,43.20 457.10,43.20" fill="#fff" stroke="#2f62a3" stroke-width="1.25" stroke-linejoin="round"/>
<polygon points="471.71,34.40 478.35,34.40 478.35,46.52 481.84,46.52 475.03,56.15 468.55,46.52 471.71,46.52" fill="#fff" stroke="#2f62a3" stroke-width="1.25" stroke-linejoin="round"/>
<circle cx="575.3" cy="44.4" r="19.7" fill="#fff" stroke="#2f62a3" stroke-width="1.1"/>
<polygon points="569.99,33.74 575.80,43.20 572.31,43.20 572.31,54.49 567.33,54.49 567.33,43.20 563.18,43.20" fill="#a7d886"/>
<polygon points="578.29,34.40 583.27,34.40 583.27,46.52 587.42,46.52 580.78,55.82 574.14,46.52 578.29,46.52" fill="#f27e7e"/>
<circle cx="680.6" cy="44.4" r="19.7" fill="#fff" stroke="#3fa397" stroke-width="1.1"/>
<path d="M680.63,32.31L680.63,45.50" stroke="#3fa397" stroke-width="1.7" fill="none"/>
<path d="M672.29,34.66Q676.24,32.90 680.63,33.19Q685.03,32.90 688.98,34.66" stroke="#3fa397" stroke-width="1.3" fill="none"/>
<path d="M671.26,40.81L674.04,34.36L676.83,40.81" stroke="#3fa397" stroke-width="0.8" fill="none"/>
<path d="M670.86,40.81A3.18,2.49 0 0 0 677.23,40.81Z" fill="#3fa397"/>
<circle cx="674.04" cy="33.92" r="1.2" fill="#3fa397"/>
<path d="M684.44,40.81L687.23,34.36L690.01,40.81" stroke="#3fa397" stroke-width="0.8" fill="none"/>
<path d="M684.04,40.81A3.18,2.49 0 0 0 690.41,40.81Z" fill="#3fa397"/>
<circle cx="687.23" cy="33.92" r="1.2" fill="#3fa397"/>
<circle cx="680.63" cy="32.31" r="1.6" fill="#3fa397"/>
<polygon points="677.27,44.91 684.00,44.91 684.74,46.67 687.52,48.42 673.75,48.42 676.53,46.67" fill="#3fa397"/>
<rect x="668.92" y="49.01" width="23.58" height="7.91" rx="3.6" fill="#3fa397"/>
<path d="M672.87,51.35L692.50,51.35" stroke="#fff" stroke-width="0.55"/>
<path d="M672.87,53.26L692.50,53.26" stroke="#fff" stroke-width="0.55"/>
<path d="M672.87,55.16L692.50,55.16" stroke="#fff" stroke-width="0.55"/>
<rect x="690.74" y="50.48" width="2.05" height="5.27" fill="#fff"/>
<circle cx="779.5" cy="44.4" r="19.7" fill="#fff" stroke="#dc5a72" stroke-width="1.1"/>
<rect x="774.38" y="32.02" width="10.40" height="10.99" fill="#fff" stroke="#dc5a72" stroke-width="1.1"/>
<circle cx="779.51" cy="35.83" r="1.85" fill="none" stroke="#dc5a72" stroke-width="0.9"/>
<path d="M779.51,37.68v3.4M778.01,39.53h3" stroke="#dc5a72" stroke-width="0.9" fill="none"/>
<polygon points="767.79,46.08 770.72,42.57 788.30,42.57 791.23,46.08" fill="#fff" stroke="#dc5a72" stroke-width="1.1" stroke-linejoin="round"/>
<path d="M772.19,44.18L786.84,44.18" stroke="#dc5a72" stroke-width="1.2"/>
<rect x="767.50" y="46.08" width="24.02" height="10.25" fill="#fff" stroke="#dc5a72" stroke-width="1.4"/>
<text x="779.51" y="53.11" font-size="6.2" font-weight="bold" fill="#dc5a72" text-anchor="middle" font-family="Liberation Sans, Arial, sans-serif" stroke="#dc5a72" stroke-width="0.45" textLength="14.6" lengthAdjust="spacingAndGlyphs">VOTE</text>
<circle cx="877.7" cy="44.4" r="19.7" fill="#fff" stroke="#5f9ad6" stroke-width="1"/>
<polygon points="877.68,31.79 889.54,37.07 866.21,37.07" fill="#fff" stroke="#5f9ad6" stroke-width="1.2" stroke-linejoin="round"/>
<rect x="866.21" y="37.07" width="23.33" height="2.24" fill="#5f9ad6" stroke="#5f9ad6" stroke-width="0.6"/>
<rect x="868.18" y="39.31" width="3.82" height="11.47" fill="#fff" stroke="#5f9ad6" stroke-width="1.1"/>
<rect x="869.50" y="40.76" width="1.19" height="9.23" fill="#cfe0f3"/>
<rect x="875.83" y="39.31" width="3.96" height="11.47" fill="#fff" stroke="#5f9ad6" stroke-width="1.1"/>
<rect x="877.15" y="40.76" width="1.32" height="9.23" fill="#cfe0f3"/>
<rect x="883.61" y="39.31" width="3.82" height="11.47" fill="#fff" stroke="#5f9ad6" stroke-width="1.1"/>
<rect x="884.93" y="40.76" width="1.19" height="9.23" fill="#cfe0f3"/>
<rect x="865.81" y="51.17" width="24.13" height="3.16" fill="#fff" stroke="#5f9ad6" stroke-width="1.1"/>
<circle cx="877.81" cy="53.15" r="3.6" fill="#fff" stroke="#5f9ad6" stroke-width="1.1"/>
<text x="877.81" y="54.90" font-size="5" font-weight="bold" fill="#5f9ad6" text-anchor="middle" font-family="Liberation Sans, Arial, sans-serif">$</text>
<circle cx="967.5" cy="44.4" r="19.7" fill="#fff" stroke="#9278c5" stroke-width="1"/>
<circle cx="964.69" cy="40.10" r="8.17" fill="#fff" stroke="#9278c5" stroke-width="1"/>
<ellipse cx="964.69" cy="40.10" rx="3.68" ry="8.17" fill="none" stroke="#9278c5" stroke-width="0.8"/>
<path d="M964.69,31.92v16.35M956.51,40.10h16.35M957.58,36.01h14.22M957.58,44.18h14.22" stroke="#9278c5" stroke-width="0.8" fill="none"/>
<rect x="957.17" y="51.57" width="3.43" height="4.48" fill="#fff" stroke="#9278c5" stroke-width="1.1"/>
<rect x="958.36" y="52.62" width="1.05" height="2.64" fill="#d6cdea"/>
<rect x="962.58" y="48.01" width="3.82" height="8.04" fill="#fff" stroke="#9278c5" stroke-width="1.1"/>
<rect x="963.76" y="49.06" width="1.45" height="6.20" fill="#d6cdea"/>
<rect x="968.25" y="49.33" width="3.82" height="6.72" fill="#fff" stroke="#9278c5" stroke-width="1.1"/>
<rect x="969.43" y="50.38" width="1.45" height="4.88" fill="#d6cdea"/>
<rect x="974.05" y="42.08" width="3.69" height="13.97" fill="#fff" stroke="#9278c5" stroke-width="1.1"/>
<rect x="975.23" y="43.13" width="1.32" height="12.13" fill="#d6cdea"/>
<polyline points="954.67,52.62 965.08,44.18 969.96,48.67 978.40,36.80" fill="none" stroke="#fff" stroke-width="2.6"/>
<polyline points="954.67,52.62 965.08,44.18 969.96,48.67 978.40,36.80" fill="none" stroke="#9278c5" stroke-width="1.2" stroke-linejoin="round"/>
<polygon points="980.24,34.43 979.72,39.17 976.03,36.01" fill="#9278c5"/>
</svg>
<div class="hd" style="left:409px;top:71.5px;color:#2f5fa8">Overall<br>score 2022</div>
<div class="hd" style="left:515px;top:71.5px;color:#2f5fa8">Change<br>2017-2022</div>
<div class="hd" style="left:618.6px;top:71px;color:#4aa698">Law and legal<br>structures</div>
<div class="hd" style="left:719px;top:71px;color:#d8657f">Leadership</div>
<div class="hd" style="left:817px;top:71px;color:#6b9fd9">Financial<br>inclusion</div>
<div class="hd" style="left:906px;top:71px;color:#9a88c9">Economic<br>inclusion</div>

<svg style="position:absolute;left:0;top:0" width="1024" height="723" viewBox="0 0 1024 723"><rect x="440.0" y="109.50" width="57.1" height="11" fill="#4f7db5"/><rect x="647.3" y="109.50" width="58.8" height="11" fill="#67b5ae"/><rect x="747.3" y="109.50" width="63.7" height="11" fill="#de8399"/><rect x="846.2" y="109.50" width="62.5" height="11" fill="#85b0de"/><rect x="945.4" y="109.50" width="43.6" height="11" fill="#ad9fd1"/><rect x="569.2" y="109.50" width="7.9" height="11" fill="#add68a"/><rect x="440.0" y="123.25" width="51.4" height="11" fill="#4f7db5"/><rect x="647.3" y="123.25" width="51.4" height="11" fill="#67b5ae"/><rect x="747.3" y="123.25" width="53.9" height="11" fill="#de8399"/><rect x="846.2" y="123.25" width="55.7" height="11" fill="#85b0de"/><rect x="945.4" y="123.25" width="44.4" height="11" fill="#ad9fd1"/><rect x="569.2" y="123.25" width="9.6" height="11" fill="#add68a"/><rect x="440.0" y="137.00" width="48.7" height="11" fill="#4f7db5"/><rect x="647.3" y="137.00" width="54.9" height="11" fill="#67b5ae"/><rect x="747.3" y="137.00" width="39.7" height="11" fill="#de8399"/><rect x="846.2" y="137.00" width="56.9" height="11" fill="#85b0de"/><rect x="945.4" y="137.00" width="43.4" height="11" fill="#ad9fd1"/><rect x="569.2" y="137.00" width="7.2" height="11" fill="#add68a"/><rect x="440.0" y="150.75" width="48.3" height="11" fill="#4f7db5"/><rect x="647.3" y="150.75" width="53.3" height="11" fill="#67b5ae"/><rect x="747.3" y="150.75" width="52.9" height="11" fill="#de8399"/><rect x="846.2" y="150.75" width="49.4" height="11" fill="#85b0de"/><rect x="945.4" y="150.75" width="37.4" height="11" fill="#ad9fd1"/><rect x="569.2" y="150.75" width="16.8" height="11" fill="#add68a"/><rect x="440.0" y="164.50" width="46.7" height="11" fill="#4f7db5"/><rect x="647.3" y="164.50" width="54.5" height="11" fill="#67b5ae"/><rect x="747.3" y="164.50" width="64.0" height="11" fill="#de8399"/><rect x="846.2" y="164.50" width="30.1" height="11" fill="#85b0de"/><rect x="945.4" y="164.50" width="38.3" height="11" fill="#ad9fd1"/><rect x="569.2" y="164.50" width="7.0" height="11" fill="#add68a"/><rect x="440.0" y="178.25" width="46.1" height="11" fill="#4f7db5"/><rect x="647.3" y="178.25" width="55.7" height="11" fill="#67b5ae"/><rect x="747.3" y="178.25" width="64.0" height="11" fill="#de8399"/><rect x="846.2" y="178.25" width="31.3" height="11" fill="#85b0de"/><rect x="945.4" y="178.25" width="33.3" height="11" fill="#ad9fd1"/><rect x="569.2" y="178.25" width="14.9" height="11" fill="#add68a"/><rect x="440.0" y="192.00" width="44.2" height="11" fill="#4f7db5"/><rect x="647.3" y="192.00" width="60.3" height="11" fill="#67b5ae"/><rect x="747.3" y="192.00" width="18.1" height="11" fill="#de8399"/><rect x="846.2" y="192.00" width="55.1" height="11" fill="#85b0de"/><rect x="945.4" y="192.00" width="43.1" height="11" fill="#ad9fd1"/><rect x="569.2" y="192.00" width="7.2" height="11" fill="#add68a"/><rect x="440.0" y="205.75" width="43.8" height="11" fill="#4f7db5"/><rect x="647.3" y="205.75" width="54.9" height="11" fill="#67b5ae"/><rect x="747.3" y="205.75" width="55.7" height="11" fill="#de8399"/><rect x="846.2" y="205.75" width="19.7" height="11" fill="#85b0de"/><rect x="945.4" y="205.75" width="45.0" height="11" fill="#ad9fd1"/><rect x="569.2" y="205.75" width="26.0" height="11" fill="#add68a"/><rect x="440.0" y="219.50" width="42.0" height="11" fill="#4f7db5"/><rect x="647.3" y="219.50" width="51.8" height="11" fill="#67b5ae"/><rect x="747.3" y="219.50" width="28.7" height="11" fill="#de8399"/><rect x="846.2" y="219.50" width="47.2" height="11" fill="#85b0de"/><rect x="945.4" y="219.50" width="40.2" height="11" fill="#ad9fd1"/><rect x="569.2" y="219.50" width="23.0" height="11" fill="#add68a"/><rect x="440.0" y="233.25" width="40.0" height="11" fill="#4f7db5"/><rect x="647.3" y="233.25" width="47.7" height="11" fill="#67b5ae"/><rect x="747.3" y="233.25" width="42.3" height="11" fill="#de8399"/><rect x="846.2" y="233.25" width="42.8" height="11" fill="#85b0de"/><rect x="945.4" y="233.25" width="27.2" height="11" fill="#ad9fd1"/><rect x="569.2" y="233.25" width="18.5" height="11" fill="#add68a"/><rect x="440.0" y="247.00" width="39.8" height="11" fill="#4f7db5"/><rect x="647.3" y="247.00" width="49.0" height="11" fill="#67b5ae"/><rect x="747.3" y="247.00" width="43.0" height="11" fill="#de8399"/><rect x="846.2" y="247.00" width="26.8" height="11" fill="#85b0de"/><rect x="945.4" y="247.00" width="40.3" height="11" fill="#ad9fd1"/><rect x="569.2" y="247.00" width="18.7" height="11" fill="#add68a"/><rect x="440.0" y="260.75" width="39.3" height="11" fill="#4f7db5"/><rect x="647.3" y="260.75" width="53.7" height="11" fill="#67b5ae"/><rect x="747.3" y="260.75" width="48.3" height="11" fill="#de8399"/><rect x="846.2" y="260.75" width="18.3" height="11" fill="#85b0de"/><rect x="945.4" y="260.75" width="37.1" height="11" fill="#ad9fd1"/><rect x="569.2" y="260.75" width="4.5" height="11" fill="#add68a"/><rect x="440.0" y="274.50" width="38.8" height="11" fill="#4f7db5"/><rect x="647.3" y="274.50" width="34.3" height="11" fill="#67b5ae"/><rect x="747.3" y="274.50" width="36.6" height="11" fill="#de8399"/><rect x="846.2" y="274.50" width="43.0" height="11" fill="#85b0de"/><rect x="945.4" y="274.50" width="41.2" height="11" fill="#ad9fd1"/><rect x="569.2" y="274.50" width="4.3" height="11" fill="#add68a"/><rect x="440.0" y="288.25" width="38.4" height="11" fill="#4f7db5"/><rect x="647.3" y="288.25" width="53.0" height="11" fill="#67b5ae"/><rect x="747.3" y="288.25" width="29.5" height="11" fill="#de8399"/><rect x="846.2" y="288.25" width="37.2" height="11" fill="#85b0de"/><rect x="945.4" y="288.25" width="33.8" height="11" fill="#ad9fd1"/><rect x="569.2" y="288.25" width="18.3" height="11" fill="#add68a"/><rect x="440.0" y="302.00" width="38.3" height="11" fill="#4f7db5"/><rect x="647.3" y="302.00" width="64.6" height="11" fill="#67b5ae"/><rect x="747.3" y="302.00" width="27.8" height="11" fill="#de8399"/><rect x="846.2" y="302.00" width="28.9" height="11" fill="#85b0de"/><rect x="945.4" y="302.00" width="31.7" height="11" fill="#ad9fd1"/><rect x="569.2" y="302.00" width="19.6" height="11" fill="#add68a"/><rect x="440.0" y="315.75" width="38.2" height="11" fill="#4f7db5"/><rect x="647.3" y="315.75" width="44.1" height="11" fill="#67b5ae"/><rect x="747.3" y="315.75" width="44.7" height="11" fill="#de8399"/><rect x="846.2" y="315.75" width="28.1" height="11" fill="#85b0de"/><rect x="945.4" y="315.75" width="36.0" height="11" fill="#ad9fd1"/><rect x="569.2" y="315.75" width="17.7" height="11" fill="#add68a"/><rect x="440.0" y="329.50" width="37.9" height="11" fill="#4f7db5"/><rect x="647.3" y="329.50" width="54.3" height="11" fill="#67b5ae"/><rect x="747.3" y="329.50" width="31.7" height="11" fill="#de8399"/><rect x="846.2" y="329.50" width="25.9" height="11" fill="#85b0de"/><rect x="945.4" y="329.50" width="39.9" height="11" fill="#ad9fd1"/><rect x="569.2" y="329.50" width="11.5" height="11" fill="#add68a"/><rect x="440.0" y="343.25" width="37.4" height="11" fill="#4f7db5"/><rect x="647.3" y="343.25" width="59.1" height="11" fill="#67b5ae"/><rect x="747.3" y="343.25" width="37.0" height="11" fill="#de8399"/><rect x="846.2" y="343.25" width="15.5" height="11" fill="#85b0de"/><rect x="945.4" y="343.25" width="38.1" height="11" fill="#ad9fd1"/><rect x="569.2" y="343.25" width="4.5" height="11" fill="#add68a"/><rect x="440.0" y="357.00" width="37.1" height="11" fill="#4f7db5"/><rect x="647.3" y="357.00" width="49.3" height="11" fill="#67b5ae"/><rect x="747.3" y="357.00" width="22.7" height="11" fill="#de8399"/><rect x="846.2" y="357.00" width="32.3" height="11" fill="#85b0de"/><rect x="945.4" y="357.00" width="44.0" height="11" fill="#ad9fd1"/><rect x="565.2" y="357.00" width="4.0" height="11" fill="#ef7f7f"/><rect x="440.0" y="374.80" width="35.4" height="11" fill="#2e5e96"/><rect x="647.3" y="374.80" width="47.7" height="11" fill="#379585"/><rect x="747.3" y="374.80" width="31.6" height="11" fill="#b94c68"/><rect x="846.2" y="374.80" width="28.2" height="11" fill="#4a89c4"/><rect x="945.4" y="374.80" width="34.0" height="11" fill="#7866b0"/><rect x="569.2" y="374.80" width="9.6" height="11" fill="#7b9b44"/><rect x="440.0" y="393.30" width="35.3" height="11" fill="#4f7db5"/><rect x="647.3" y="393.30" width="40.1" height="11" fill="#67b5ae"/><rect x="747.3" y="393.30" width="40.7" height="11" fill="#de8399"/><rect x="846.2" y="393.30" width="18.0" height="11" fill="#85b0de"/><rect x="945.4" y="393.30" width="42.6" height="11" fill="#ad9fd1"/><rect x="569.2" y="393.30" width="21.5" height="11" fill="#add68a"/><rect x="440.0" y="407.06" width="34.8" height="11" fill="#4f7db5"/><rect x="647.3" y="407.06" width="33.8" height="11" fill="#67b5ae"/><rect x="747.3" y="407.06" width="17.5" height="11" fill="#de8399"/><rect x="846.2" y="407.06" width="42.8" height="11" fill="#85b0de"/><rect x="945.4" y="407.06" width="44.9" height="11" fill="#ad9fd1"/><rect x="569.2" y="407.06" width="8.9" height="11" fill="#add68a"/><rect x="440.0" y="420.82" width="33.6" height="11" fill="#4f7db5"/><rect x="647.3" y="420.82" width="64.6" height="11" fill="#67b5ae"/><rect x="747.3" y="420.82" width="24.5" height="11" fill="#de8399"/><rect x="846.2" y="420.82" width="13.6" height="11" fill="#85b0de"/><rect x="945.4" y="420.82" width="31.4" height="11" fill="#ad9fd1"/><rect x="569.2" y="420.82" width="15.3" height="11" fill="#add68a"/><rect x="440.0" y="434.58" width="32.8" height="11" fill="#4f7db5"/><rect x="647.3" y="434.58" width="51.0" height="11" fill="#67b5ae"/><rect x="747.3" y="434.58" width="33.4" height="11" fill="#de8399"/><rect x="846.2" y="434.58" width="17.4" height="11" fill="#85b0de"/><rect x="945.4" y="434.58" width="29.3" height="11" fill="#ad9fd1"/><rect x="569.2" y="434.58" width="10.6" height="11" fill="#add68a"/><rect x="440.0" y="448.34" width="32.7" height="11" fill="#4f7db5"/><rect x="647.3" y="448.34" width="36.8" height="11" fill="#67b5ae"/><rect x="747.3" y="448.34" width="27.4" height="11" fill="#de8399"/><rect x="846.2" y="448.34" width="30.1" height="11" fill="#85b0de"/><rect x="945.4" y="448.34" width="36.6" height="11" fill="#ad9fd1"/><rect x="569.2" y="448.34" width="3.6" height="11" fill="#add68a"/><rect x="440.0" y="462.10" width="32.6" height="11" fill="#4f7db5"/><rect x="647.3" y="462.10" width="55.8" height="11" fill="#67b5ae"/><rect x="747.3" y="462.10" width="19.3" height="11" fill="#de8399"/><rect x="846.2" y="462.10" width="18.8" height="11" fill="#85b0de"/><rect x="945.4" y="462.10" width="36.3" height="11" fill="#ad9fd1"/><rect x="569.2" y="462.10" width="3.2" height="11" fill="#add68a"/><rect x="440.0" y="475.86" width="32.5" height="11" fill="#4f7db5"/><rect x="647.3" y="475.86" width="55.5" height="11" fill="#67b5ae"/><rect x="747.3" y="475.86" width="24.6" height="11" fill="#de8399"/><rect x="846.2" y="475.86" width="17.0" height="11" fill="#85b0de"/><rect x="945.4" y="475.86" width="33.1" height="11" fill="#ad9fd1"/><rect x="569.2" y="475.86" width="2.3" height="11" fill="#add68a"/><rect x="440.0" y="489.62" width="32.5" height="11" fill="#4f7db5"/><rect x="647.3" y="489.62" width="42.2" height="11" fill="#67b5ae"/><rect x="747.3" y="489.62" width="29.7" height="11" fill="#de8399"/><rect x="846.2" y="489.62" width="39.7" height="11" fill="#85b0de"/><rect x="945.4" y="489.62" width="18.3" height="11" fill="#ad9fd1"/><rect x="569.2" y="489.62" width="20.2" height="11" fill="#add68a"/><rect x="440.0" y="503.38" width="32.3" height="11" fill="#4f7db5"/><rect x="647.3" y="503.38" width="53.3" height="11" fill="#67b5ae"/><rect x="747.3" y="503.38" width="18.8" height="11" fill="#de8399"/><rect x="846.2" y="503.38" width="23.6" height="11" fill="#85b0de"/><rect x="945.4" y="503.38" width="33.4" height="11" fill="#ad9fd1"/><rect x="550.2" y="503.38" width="19.0" height="11" fill="#ef7f7f"/><rect x="440.0" y="517.14" width="32.1" height="11" fill="#4f7db5"/><rect x="647.3" y="517.14" width="55.1" height="11" fill="#67b5ae"/><rect x="747.3" y="517.14" width="23.9" height="11" fill="#de8399"/><rect x="846.2" y="517.14" width="11.7" height="11" fill="#85b0de"/><rect x="945.4" y="517.14" width="37.5" height="11" fill="#ad9fd1"/><rect x="569.2" y="517.14" width="20.0" height="11" fill="#add68a"/><rect x="440.0" y="530.90" width="31.1" height="11" fill="#4f7db5"/><rect x="647.3" y="530.90" width="36.4" height="11" fill="#67b5ae"/><rect x="747.3" y="530.90" width="25.0" height="11" fill="#de8399"/><rect x="846.2" y="530.90" width="24.6" height="11" fill="#85b0de"/><rect x="945.4" y="530.90" width="38.4" height="11" fill="#ad9fd1"/><rect x="569.2" y="530.90" width="8.7" height="11" fill="#add68a"/><rect x="440.0" y="544.66" width="30.0" height="11" fill="#4f7db5"/><rect x="647.3" y="544.66" width="46.7" height="11" fill="#67b5ae"/><rect x="747.3" y="544.66" width="12.8" height="11" fill="#de8399"/><rect x="846.2" y="544.66" width="21.2" height="11" fill="#85b0de"/><rect x="945.4" y="544.66" width="39.3" height="11" fill="#ad9fd1"/><rect x="569.2" y="544.66" width="0.5" height="11" fill="#add68a"/><rect x="440.0" y="558.42" width="29.2" height="11" fill="#4f7db5"/><rect x="647.3" y="558.42" width="45.3" height="11" fill="#67b5ae"/><rect x="747.3" y="558.42" width="29.7" height="11" fill="#de8399"/><rect x="846.2" y="558.42" width="23.5" height="11" fill="#85b0de"/><rect x="945.4" y="558.42" width="18.3" height="11" fill="#ad9fd1"/><rect x="569.2" y="558.42" width="30.9" height="11" fill="#add68a"/><rect x="440.0" y="572.18" width="28.5" height="11" fill="#4f7db5"/><rect x="647.3" y="572.18" width="49.3" height="11" fill="#67b5ae"/><rect x="747.3" y="572.18" width="11.9" height="11" fill="#de8399"/><rect x="846.2" y="572.18" width="13.2" height="11" fill="#85b0de"/><rect x="945.4" y="572.18" width="39.5" height="11" fill="#ad9fd1"/><rect x="567.7" y="572.18" width="1.5" height="11" fill="#ef7f7f"/><rect x="440.0" y="585.94" width="27.0" height="11" fill="#4f7db5"/><rect x="647.3" y="585.94" width="38.9" height="11" fill="#67b5ae"/><rect x="747.3" y="585.94" width="40.1" height="11" fill="#de8399"/><rect x="846.2" y="585.94" width="4.4" height="11" fill="#85b0de"/><rect x="945.4" y="585.94" width="24.3" height="11" fill="#ad9fd1"/><rect x="569.2" y="585.94" width="11.3" height="11" fill="#add68a"/><rect x="440.0" y="599.70" width="26.6" height="11" fill="#4f7db5"/><rect x="647.3" y="599.70" width="44.8" height="11" fill="#67b5ae"/><rect x="747.3" y="599.70" width="25.4" height="11" fill="#de8399"/><rect x="846.2" y="599.70" width="16.7" height="11" fill="#85b0de"/><rect x="945.4" y="599.70" width="19.4" height="11" fill="#ad9fd1"/><rect x="569.2" y="599.70" width="6.2" height="11" fill="#add68a"/><rect x="440.0" y="613.46" width="26.0" height="11" fill="#4f7db5"/><rect x="647.3" y="613.46" width="42.0" height="11" fill="#67b5ae"/><rect x="747.3" y="613.46" width="5.9" height="11" fill="#de8399"/><rect x="846.2" y="613.46" width="23.9" height="11" fill="#85b0de"/><rect x="945.4" y="613.46" width="32.1" height="11" fill="#ad9fd1"/><rect x="569.2" y="613.46" width="4.5" height="11" fill="#add68a"/><rect x="440.0" y="627.22" width="25.8" height="11" fill="#4f7db5"/><rect x="647.3" y="627.22" width="36.8" height="11" fill="#67b5ae"/><rect x="747.3" y="627.22" width="17.7" height="11" fill="#de8399"/><rect x="846.2" y="627.22" width="30.1" height="11" fill="#85b0de"/><rect x="945.4" y="627.22" width="18.5" height="11" fill="#ad9fd1"/><rect x="569.2" y="627.22" width="16.0" height="11" fill="#add68a"/><rect x="440.0" y="640.98" width="25.6" height="11" fill="#4f7db5"/><rect x="647.3" y="640.98" width="42.0" height="11" fill="#67b5ae"/><rect x="747.3" y="640.98" width="8.5" height="11" fill="#de8399"/><rect x="846.2" y="640.98" width="17.9" height="11" fill="#85b0de"/><rect x="945.4" y="640.98" width="33.9" height="11" fill="#ad9fd1"/><rect x="569.2" y="640.98" width="7.7" height="11" fill="#add68a"/><rect x="440.0" y="654.74" width="23.6" height="11" fill="#4f7db5"/><rect x="647.3" y="654.74" width="34.9" height="11" fill="#67b5ae"/><rect x="747.3" y="654.74" width="20.8" height="11" fill="#de8399"/><rect x="846.2" y="654.74" width="17.8" height="11" fill="#85b0de"/><rect x="945.4" y="654.74" width="21.0" height="11" fill="#ad9fd1"/><rect x="551.3" y="654.74" width="17.9" height="11" fill="#ef7f7f"/><rect x="440.0" y="668.50" width="23.0" height="11" fill="#4f7db5"/><rect x="647.3" y="668.50" width="36.8" height="11" fill="#67b5ae"/><rect x="747.3" y="668.50" width="10.0" height="11" fill="#de8399"/><rect x="846.2" y="668.50" width="24.1" height="11" fill="#85b0de"/><rect x="945.4" y="668.50" width="21.2" height="11" fill="#ad9fd1"/><rect x="569.2" y="668.50" width="0.5" height="11" fill="#add68a"/><rect x="440.0" y="682.26" width="22.2" height="11" fill="#4f7db5"/><rect x="647.3" y="682.26" width="26.4" height="11" fill="#67b5ae"/><rect x="747.3" y="682.26" width="30.0" height="11" fill="#de8399"/><rect x="846.2" y="682.26" width="16.9" height="11" fill="#85b0de"/><rect x="945.4" y="682.26" width="15.6" height="11" fill="#ad9fd1"/><rect x="569.2" y="682.26" width="6.2" height="11" fill="#add68a"/><rect x="440.0" y="696.02" width="22.1" height="11" fill="#4f7db5"/><rect x="647.3" y="696.02" width="29.3" height="11" fill="#67b5ae"/><rect x="747.3" y="696.02" width="24.4" height="11" fill="#de8399"/><rect x="846.2" y="696.02" width="11.1" height="11" fill="#85b0de"/><rect x="945.4" y="696.02" width="23.3" height="11" fill="#ad9fd1"/><rect x="569.2" y="696.02" width="5.8" height="11" fill="#add68a"/></svg>
<div class="lab" style="top:107.40px">South Africa</div>
<span class="v" style="left:500.7px;top:107.00px">86.4</span>
<span class="v" style="left:709.7px;top:107.00px">88.9</span>
<span class="v" style="left:814.6px;top:107.00px">96.3</span>
<span class="v" style="left:912.3px;top:107.00px">94.6</span>
<span class="v" style="left:992.6px;top:107.00px">65.9</span>
<span class="v" style="left:580.7px;top:107.00px">3.7</span>
<div class="lab" style="top:121.15px">Namibia</div>
<span class="v" style="left:495.0px;top:120.75px">77.7</span>
<span class="v" style="left:702.3px;top:120.75px">77.8</span>
<span class="v" style="left:804.8px;top:120.75px">81.6</span>
<span class="v" style="left:905.5px;top:120.75px">84.3</span>
<span class="v" style="left:993.4px;top:120.75px">67.2</span>
<span class="v" style="left:582.4px;top:120.75px">4.5</span>
<div class="lab" style="top:134.90px">Kenya</div>
<span class="v" style="left:492.3px;top:134.50px">73.7</span>
<span class="v" style="left:705.8px;top:134.50px">83</span>
<span class="v" style="left:790.6px;top:134.50px">60</span>
<span class="v" style="left:906.7px;top:134.50px">86.1</span>
<span class="v" style="left:992.4px;top:134.50px">65.7</span>
<span class="v" style="left:580.0px;top:134.50px">3.4</span>
<div class="lab" style="top:148.65px">Uganda</div>
<span class="v" style="left:491.9px;top:148.25px">73.1</span>
<span class="v" style="left:704.2px;top:148.25px">80.7</span>
<span class="v" style="left:803.8px;top:148.25px">80.1</span>
<span class="v" style="left:899.2px;top:148.25px">74.8</span>
<span class="v" style="left:986.4px;top:148.25px">56.6</span>
<span class="v" style="left:589.6px;top:148.25px">7.9</span>
<div class="lab" style="top:162.40px">Rwanda</div>
<span class="v" style="left:490.3px;top:162.00px">70.6</span>
<span class="v" style="left:705.4px;top:162.00px">82.4</span>
<span class="v" style="left:814.9px;top:162.00px">96.8</span>
<span class="v" style="left:879.9px;top:162.00px">45.5</span>
<span class="v" style="left:987.3px;top:162.00px">57.9</span>
<span class="v" style="left:579.8px;top:162.00px">3.3</span>
<div class="lab" style="top:176.15px">Mozambique</div>
<span class="v" style="left:489.7px;top:175.75px">69.7</span>
<span class="v" style="left:706.6px;top:175.75px">84.3</span>
<span class="v" style="left:814.9px;top:175.75px">96.8</span>
<span class="v" style="left:881.1px;top:175.75px">47.4</span>
<span class="v" style="left:982.3px;top:175.75px">50.4</span>
<span class="v" style="left:587.7px;top:175.75px">7</span>
<div class="lab" style="top:189.90px">Mauritius</div>
<span class="v" style="left:487.8px;top:189.50px">66.8</span>
<span class="v" style="left:711.2px;top:189.50px">91.3</span>
<span class="v" style="left:769.0px;top:189.50px">27.4</span>
<span class="v" style="left:904.9px;top:189.50px">83.3</span>
<span class="v" style="left:992.1px;top:189.50px">65.2</span>
<span class="v" style="left:580.0px;top:189.50px">3.4</span>
<div class="lab" style="top:203.65px">Ethiopia</div>
<span class="v" style="left:487.4px;top:203.25px">66.3</span>
<span class="v" style="left:705.8px;top:203.25px">83</span>
<span class="v" style="left:806.6px;top:203.25px">84.2</span>
<span class="v" style="left:869.5px;top:203.25px">29.8</span>
<span class="v" style="left:994.0px;top:203.25px">68.1</span>
<span class="v" style="left:598.8px;top:203.25px">12.2</span>
<div class="lab" style="top:217.40px">Lesotho</div>
<span class="v" style="left:485.6px;top:217.00px">63.5</span>
<span class="v" style="left:702.7px;top:217.00px">78.3</span>
<span class="v" style="left:779.6px;top:217.00px">43.4</span>
<span class="v" style="left:897.0px;top:217.00px">71.4</span>
<span class="v" style="left:989.2px;top:217.00px">60.8</span>
<span class="v" style="left:595.8px;top:217.00px">10.8</span>
<div class="lab" style="top:231.15px">Senegal</div>
<span class="v" style="left:483.6px;top:230.75px">60.5</span>
<span class="v" style="left:698.6px;top:230.75px">72.2</span>
<span class="v" style="left:793.2px;top:230.75px">64</span>
<span class="v" style="left:892.6px;top:230.75px">64.7</span>
<span class="v" style="left:976.2px;top:230.75px">41.1</span>
<span class="v" style="left:591.3px;top:230.75px">8.7</span>
<div class="lab" style="top:244.90px">Malawi</div>
<span class="v" style="left:483.4px;top:244.50px">60.2</span>
<span class="v" style="left:699.9px;top:244.50px">74.1</span>
<span class="v" style="left:793.9px;top:244.50px">65.1</span>
<span class="v" style="left:876.6px;top:244.50px">40.6</span>
<span class="v" style="left:989.3px;top:244.50px">61</span>
<span class="v" style="left:591.5px;top:244.50px">8.8</span>
<div class="lab" style="top:258.65px">Tanzania</div>
<span class="v" style="left:482.9px;top:258.25px">59.5</span>
<span class="v" style="left:704.6px;top:258.25px">81.3</span>
<span class="v" style="left:799.2px;top:258.25px">73</span>
<span class="v" style="left:868.1px;top:258.25px">27.7</span>
<span class="v" style="left:986.1px;top:258.25px">56.1</span>
<span class="v" style="left:577.3px;top:258.25px">2.1</span>
<div class="lab" style="top:272.40px">Eswatini</div>
<span class="v" style="left:482.4px;top:272.00px">58.7</span>
<span class="v" style="left:685.2px;top:272.00px">51.9</span>
<span class="v" style="left:787.5px;top:272.00px">55.4</span>
<span class="v" style="left:892.8px;top:272.00px">65</span>
<span class="v" style="left:990.2px;top:272.00px">62.4</span>
<span class="v" style="left:577.1px;top:272.00px">2</span>
<div class="lab" style="top:286.15px">Liberia</div>
<span class="v" style="left:482.0px;top:285.75px">58.1</span>
<span class="v" style="left:703.9px;top:285.75px">80.2</span>
<span class="v" style="left:780.4px;top:285.75px">44.6</span>
<span class="v" style="left:887.0px;top:285.75px">56.3</span>
<span class="v" style="left:982.8px;top:285.75px">51.2</span>
<span class="v" style="left:591.1px;top:285.75px">8.6</span>
<div class="lab" style="top:299.90px">Gabon</div>
<span class="v" style="left:481.9px;top:299.50px">57.9</span>
<span class="v" style="left:715.5px;top:299.50px">97.8</span>
<span class="v" style="left:778.7px;top:299.50px">42.1</span>
<span class="v" style="left:878.7px;top:299.50px">43.7</span>
<span class="v" style="left:980.7px;top:299.50px">48</span>
<span class="v" style="left:592.4px;top:299.50px">9.2</span>
<div class="lab" style="top:313.65px">Tunisia</div>
<span class="v" style="left:481.8px;top:313.25px">57.8</span>
<span class="v" style="left:695.0px;top:313.25px">66.7</span>
<span class="v" style="left:795.6px;top:313.25px">67.7</span>
<span class="v" style="left:877.9px;top:313.25px">42.5</span>
<span class="v" style="left:985.0px;top:313.25px">54.4</span>
<span class="v" style="left:590.5px;top:313.25px">8.3</span>
<div class="lab" style="top:327.40px">Togo</div>
<span class="v" style="left:481.5px;top:327.00px">57.4</span>
<span class="v" style="left:705.2px;top:327.00px">82.2</span>
<span class="v" style="left:782.6px;top:327.00px">47.9</span>
<span class="v" style="left:875.7px;top:327.00px">39.2</span>
<span class="v" style="left:988.9px;top:327.00px">60.4</span>
<span class="v" style="left:584.3px;top:327.00px">5.4</span>
<div class="lab" style="top:341.15px">Zimbabwe</div>
<span class="v" style="left:481.0px;top:340.75px">56.6</span>
<span class="v" style="left:710.0px;top:340.75px">89.4</span>
<span class="v" style="left:787.9px;top:340.75px">56</span>
<span class="v" style="left:865.3px;top:340.75px">23.4</span>
<span class="v" style="left:987.1px;top:340.75px">57.6</span>
<span class="v" style="left:577.3px;top:340.75px">2.1</span>
<div class="lab" style="top:354.90px">Ghana</div>
<span class="v" style="left:480.7px;top:354.50px">56.1</span>
<span class="v" style="left:700.2px;top:354.50px">74.6</span>
<span class="v" style="left:773.6px;top:354.50px">34.4</span>
<span class="v" style="left:882.1px;top:354.50px">48.8</span>
<span class="v" style="left:993.0px;top:354.50px">66.5</span>
<span class="v vr" style="right:462.8px;top:354.50px">-1.9</span>
<div class="lab af" style="top:372.70px">Africa</div>
<span class="v af" style="left:479.0px;top:372.30px">53.5</span>
<span class="v af" style="left:698.6px;top:372.30px">72.1</span>
<span class="v af" style="left:782.5px;top:372.30px">47.8</span>
<span class="v af" style="left:878.0px;top:372.30px">42.7</span>
<span class="v af" style="left:983.0px;top:372.30px">51.4</span>
<span class="v af" style="left:582.4px;top:372.30px">4.5</span>
<div class="lab" style="top:391.20px">Madagascar</div>
<span class="v" style="left:478.9px;top:390.80px">53.4</span>
<span class="v" style="left:691.0px;top:390.80px">60.6</span>
<span class="v" style="left:791.6px;top:390.80px">61.5</span>
<span class="v" style="left:867.8px;top:390.80px">27.3</span>
<span class="v" style="left:991.6px;top:390.80px">64.4</span>
<span class="v" style="left:594.3px;top:390.80px">10.1</span>
<div class="lab" style="top:404.96px">Botswana</div>
<span class="v" style="left:478.4px;top:404.56px">52.6</span>
<span class="v" style="left:684.7px;top:404.56px">51.1</span>
<span class="v" style="left:768.4px;top:404.56px">26.4</span>
<span class="v" style="left:892.6px;top:404.56px">64.7</span>
<span class="v" style="left:993.9px;top:404.56px">68</span>
<span class="v" style="left:581.7px;top:404.56px">4.2</span>
<div class="lab" style="top:418.72px">Côte d'Ivoire</div>
<span class="v" style="left:477.2px;top:418.32px">50.8</span>
<span class="v" style="left:715.5px;top:418.32px">97.8</span>
<span class="v" style="left:775.4px;top:418.32px">37.1</span>
<span class="v" style="left:863.4px;top:418.32px">20.6</span>
<span class="v" style="left:980.4px;top:418.32px">47.5</span>
<span class="v" style="left:588.1px;top:418.32px">7.2</span>
<div class="lab" style="top:432.48px">Guinea</div>
<span class="v" style="left:476.4px;top:432.08px">49.6</span>
<span class="v" style="left:701.9px;top:432.08px">77.2</span>
<span class="v" style="left:784.3px;top:432.08px">50.5</span>
<span class="v" style="left:867.2px;top:432.08px">26.3</span>
<span class="v" style="left:978.3px;top:432.08px">44.4</span>
<span class="v" style="left:583.5px;top:432.08px">5</span>
<div class="lab" style="top:446.24px">Cameroon</div>
<span class="v" style="left:476.3px;top:445.84px">49.5</span>
<span class="v" style="left:687.7px;top:445.84px">55.6</span>
<span class="v" style="left:778.3px;top:445.84px">41.4</span>
<span class="v" style="left:879.9px;top:445.84px">45.6</span>
<span class="v" style="left:985.6px;top:445.84px">55.4</span>
<span class="v" style="left:576.4px;top:445.84px">1.7</span>
<div class="lab" style="top:460.00px">Benin</div>
<span class="v" style="left:476.2px;top:459.60px">49.3</span>
<span class="v" style="left:706.7px;top:459.60px">84.4</span>
<span class="v" style="left:770.2px;top:459.60px">29.2</span>
<span class="v" style="left:868.6px;top:459.60px">28.5</span>
<span class="v" style="left:985.3px;top:459.60px">54.9</span>
<span class="v" style="left:576.0px;top:459.60px">1.5</span>
<div class="lab" style="top:473.76px">Burkina Faso</div>
<span class="v" style="left:476.1px;top:473.36px">49.2</span>
<span class="v" style="left:706.4px;top:473.36px">83.9</span>
<span class="v" style="left:775.5px;top:473.36px">37.2</span>
<span class="v" style="left:866.8px;top:473.36px">25.7</span>
<span class="v" style="left:982.1px;top:473.36px">50.1</span>
<span class="v" style="left:575.1px;top:473.36px">1.1</span>
<div class="lab" style="top:487.52px">Mali</div>
<span class="v" style="left:476.1px;top:487.12px">49.1</span>
<span class="v" style="left:693.1px;top:487.12px">63.9</span>
<span class="v" style="left:780.6px;top:487.12px">45</span>
<span class="v" style="left:889.5px;top:487.12px">60</span>
<span class="v" style="left:967.3px;top:487.12px">27.7</span>
<span class="v" style="left:593.0px;top:487.12px">9.5</span>
<div class="lab" style="top:501.28px">Zambia</div>
<span class="v" style="left:475.9px;top:500.88px">48.9</span>
<span class="v" style="left:704.2px;top:500.88px">80.7</span>
<span class="v" style="left:769.7px;top:500.88px">28.5</span>
<span class="v" style="left:873.4px;top:500.88px">35.7</span>
<span class="v" style="left:982.4px;top:500.88px">50.5</span>
<span class="v vr" style="right:477.8px;top:500.88px">-8.9</span>
<div class="lab" style="top:515.04px">DR Congo</div>
<span class="v" style="left:475.7px;top:514.64px">48.5</span>
<span class="v" style="left:706.0px;top:514.64px">83.3</span>
<span class="v" style="left:774.8px;top:514.64px">36.2</span>
<span class="v" style="left:861.5px;top:514.64px">17.7</span>
<span class="v" style="left:986.5px;top:514.64px">56.7</span>
<span class="v" style="left:592.8px;top:514.64px">9.4</span>
<div class="lab" style="top:528.80px">Congo Rep</div>
<span class="v" style="left:474.7px;top:528.40px">47</span>
<span class="v" style="left:687.3px;top:528.40px">55</span>
<span class="v" style="left:775.9px;top:528.40px">37.8</span>
<span class="v" style="left:874.4px;top:528.40px">37.2</span>
<span class="v" style="left:987.4px;top:528.40px">58.1</span>
<span class="v" style="left:581.5px;top:528.40px">4.1</span>
<div class="lab" style="top:542.56px">Gambia</div>
<span class="v" style="left:473.6px;top:542.16px">45.4</span>
<span class="v" style="left:697.6px;top:542.16px">70.7</span>
<span class="v" style="left:763.7px;top:542.16px">19.4</span>
<span class="v" style="left:871.0px;top:542.16px">32.1</span>
<span class="v" style="left:988.3px;top:542.16px">59.4</span>
<span class="v" style="left:573.3px;top:542.16px">0.1</span>
<div class="lab" style="top:556.32px">Morocco</div>
<span class="v" style="left:472.8px;top:555.92px">44.2</span>
<span class="v" style="left:696.2px;top:555.92px">68.5</span>
<span class="v" style="left:780.6px;top:555.92px">44.9</span>
<span class="v" style="left:873.3px;top:555.92px">35.5</span>
<span class="v" style="left:967.3px;top:555.92px">27.7</span>
<span class="v" style="left:603.7px;top:555.92px">14.5</span>
<div class="lab" style="top:570.08px">Sierra Leone</div>
<span class="v" style="left:472.1px;top:569.68px">43.1</span>
<span class="v" style="left:700.2px;top:569.68px">74.6</span>
<span class="v" style="left:762.8px;top:569.68px">18</span>
<span class="v" style="left:863.0px;top:569.68px">19.9</span>
<span class="v" style="left:988.5px;top:569.68px">59.8</span>
<span class="v af" style="left:574.2px;top:569.68px">-0.6</span>
<div class="lab" style="top:583.84px">South Sudan</div>
<span class="v" style="left:470.6px;top:583.44px">40.8</span>
<span class="v" style="left:689.8px;top:583.44px">58.9</span>
<span class="v" style="left:791.0px;top:583.44px">60.7</span>
<span class="v" style="left:854.2px;top:583.44px">6.7</span>
<span class="v" style="left:973.3px;top:583.44px">36.8</span>
<span class="v" style="left:584.1px;top:583.44px">5.3</span>
<div class="lab" style="top:597.60px">Central African Rep.</div>
<span class="v" style="left:470.2px;top:597.20px">40.2</span>
<span class="v" style="left:695.7px;top:597.20px">67.8</span>
<span class="v" style="left:776.3px;top:597.20px">38.4</span>
<span class="v" style="left:866.5px;top:597.20px">25.2</span>
<span class="v" style="left:968.4px;top:597.20px">29.4</span>
<span class="v" style="left:579.0px;top:597.20px">2.9</span>
<div class="lab" style="top:611.36px">Nigeria</div>
<span class="v" style="left:469.6px;top:610.96px">39.3</span>
<span class="v" style="left:692.9px;top:610.96px">63.5</span>
<span class="v" style="left:756.8px;top:610.96px">8.9</span>
<span class="v" style="left:873.7px;top:610.96px">36.1</span>
<span class="v" style="left:981.1px;top:610.96px">48.5</span>
<span class="v" style="left:577.3px;top:610.96px">2.1</span>
<div class="lab" style="top:625.12px">Chad</div>
<span class="v" style="left:469.4px;top:624.72px">39</span>
<span class="v" style="left:687.7px;top:624.72px">55.6</span>
<span class="v" style="left:768.6px;top:624.72px">26.8</span>
<span class="v" style="left:879.9px;top:624.72px">45.5</span>
<span class="v" style="left:967.5px;top:624.72px">28</span>
<span class="v" style="left:588.8px;top:624.72px">7.5</span>
<div class="lab" style="top:638.88px">Comoros</div>
<span class="v" style="left:469.2px;top:638.48px">38.7</span>
<span class="v" style="left:692.9px;top:638.48px">63.5</span>
<span class="v" style="left:759.4px;top:638.48px">12.8</span>
<span class="v" style="left:867.7px;top:638.48px">27.1</span>
<span class="v" style="left:982.9px;top:638.48px">51.3</span>
<span class="v" style="left:580.5px;top:638.48px">3.6</span>
<div class="lab" style="top:652.64px">Mauritania</div>
<span class="v" style="left:467.2px;top:652.24px">35.7</span>
<span class="v" style="left:685.8px;top:652.24px">52.8</span>
<span class="v" style="left:771.7px;top:652.24px">31.4</span>
<span class="v" style="left:867.6px;top:652.24px">26.9</span>
<span class="v" style="left:970.0px;top:652.24px">31.8</span>
<span class="v vr" style="right:476.7px;top:652.24px">-8.4</span>
<div class="lab" style="top:666.40px">Algeria</div>
<span class="v" style="left:466.6px;top:666.00px">34.8</span>
<span class="v" style="left:687.7px;top:666.00px">55.6</span>
<span class="v" style="left:760.9px;top:666.00px">15.1</span>
<span class="v" style="left:873.9px;top:666.00px">36.5</span>
<span class="v" style="left:970.2px;top:666.00px">32.1</span>
<span class="v" style="left:573.3px;top:666.00px">0.1</span>
<div class="lab" style="top:680.16px">Egypt</div>
<span class="v" style="left:465.8px;top:679.76px">33.6</span>
<span class="v" style="left:677.3px;top:679.76px">40</span>
<span class="v" style="left:780.9px;top:679.76px">45.4</span>
<span class="v" style="left:866.7px;top:679.76px">25.5</span>
<span class="v" style="left:964.6px;top:679.76px">23.6</span>
<span class="v" style="left:579.0px;top:679.76px">2.9</span>
<div class="lab" style="top:693.92px">Niger</div>
<span class="v" style="left:465.7px;top:693.52px">33.4</span>
<span class="v" style="left:680.2px;top:693.52px">44.4</span>
<span class="v" style="left:775.3px;top:693.52px">36.9</span>
<span class="v" style="left:860.9px;top:693.52px">16.8</span>
<span class="v" style="left:972.3px;top:693.52px">35.3</span>
<span class="v" style="left:578.6px;top:693.52px">2.7</span>
</body>
</html>
